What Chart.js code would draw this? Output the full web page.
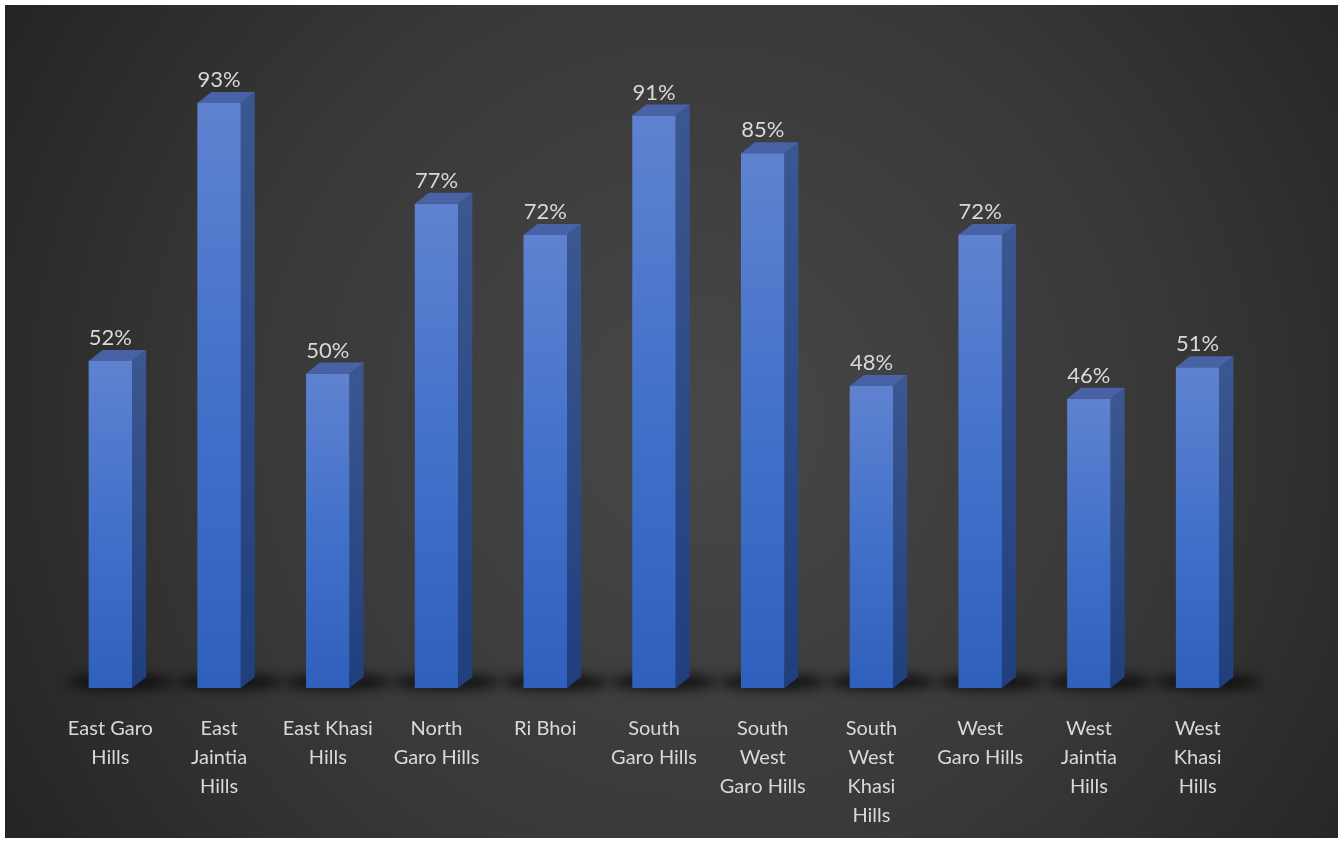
<!DOCTYPE html>
<html>
<head>
<meta charset="utf-8">
<script src="https://cdn.jsdelivr.net/npm/chart.js@4.4.0/dist/chart.umd.min.js"></script>
<style>
  html, body { margin: 0; padding: 0; background: #fff; }
  #wrap { position: absolute; left: 5px; top: 5px; width: 1333px; height: 833px; }
</style>
</head>
<body>
<div id="wrap"><canvas id="myChart"></canvas></div>
<script>
// districts (already split into lines like the original)
var districts = [
  ['East Garo', 'Hills'],
  ['East', 'Jaintia', 'Hills'],
  ['East Khasi', 'Hills'],
  ['North', 'Garo Hills'],
  ['Ri Bhoi'],
  ['South', 'Garo Hills'],
  ['South', 'West', 'Garo Hills'],
  ['South', 'West', 'Khasi', 'Hills'],
  ['West', 'Garo Hills'],
  ['West', 'Jaintia', 'Hills'],
  ['West', 'Khasi', 'Hills']
];
var percents = [52, 93, 50, 77, 72, 91, 85, 48, 72, 46, 51];

var DX = 14, DY = 11;

// background + shadows under the bars
var backdrop = {
  id: 'backdrop',
  beforeDraw: function (chart) {
    var ctx = chart.ctx, w = chart.width, h = chart.height;
    var g = ctx.createRadialGradient(w * 0.52, h * 0.5, 20, w * 0.52, h * 0.5, w * 0.62);
    g.addColorStop(0, '#474747');
    g.addColorStop(0.55, '#383838');
    g.addColorStop(1, '#232323');
    ctx.save();
    ctx.fillStyle = g;
    ctx.fillRect(0, 0, w, h);
    ctx.restore();
  },
  beforeDatasetsDraw: function (chart) {
    var ctx = chart.ctx;
    var meta = chart.getDatasetMeta(0);
    ctx.save();
    ctx.filter = 'blur(6px)';
    ctx.fillStyle = 'rgba(10,10,10,0.85)';
    meta.data.forEach(function (bar) {
      var half = bar.width / 2;
      ctx.beginPath();
      ctx.ellipse(bar.x + 10, bar.base - 6, half + 32, 8, 0, 0, Math.PI * 2);
      ctx.fill();
    });
    ctx.restore();
  }
};

// side and top faces + value labels
var boxes = {
  id: 'boxes',
  afterDatasetsDraw: function (chart) {
    var ctx = chart.ctx;
    var meta = chart.getDatasetMeta(0);
    ctx.save();
    meta.data.forEach(function (bar, i) {
      var l = bar.x - bar.width / 2, r = bar.x + bar.width / 2;
      var t = bar.y, b = bar.base;
      var sg = ctx.createLinearGradient(0, t, 0, b);
      sg.addColorStop(0, '#3b5791');
      sg.addColorStop(1, '#1f3f7d');
      ctx.fillStyle = sg;
      ctx.beginPath();
      ctx.moveTo(r, t);
      ctx.lineTo(r + DX, t - DY);
      ctx.lineTo(r + DX, b - DY);
      ctx.lineTo(r, b);
      ctx.closePath();
      ctx.fill();

      ctx.fillStyle = '#4862a6';
      ctx.beginPath();
      ctx.moveTo(l, t);
      ctx.lineTo(l + DX, t - DY);
      ctx.lineTo(r + DX, t - DY);
      ctx.lineTo(r, t);
      ctx.closePath();
      ctx.fill();

      ctx.fillStyle = '#d9d9d9';
      ctx.font = '22px Lato';
      ctx.textAlign = 'center';
      ctx.textBaseline = 'alphabetic';
      ctx.fillText(percents[i] + '%', bar.x, t - 16);
    });
    ctx.restore();
  }
};

var ctx_bar = document.getElementById('myChart');

var data_bar = {
  labels: districts,
  datasets: [{
    label: 'Percentage',
    data: percents,
    backgroundColor: function (context) {
      var chart = context.chart;
      if (!chart.chartArea || !chart.scales.y) return '#4472c4';
      var top = chart.scales.y.getPixelForValue(context.raw);
      var bottom = chart.scales.y.getPixelForValue(0);
      if (!isFinite(top) || !isFinite(bottom)) return '#4472c4';
      var g = chart.ctx.createLinearGradient(0, top, 0, bottom);
      g.addColorStop(0, '#5f82d0');
      g.addColorStop(0.5, '#4271ca');
      g.addColorStop(1, '#2f60bd');
      return g;
    },
    borderWidth: 0,
    barPercentage: 0.4,
    categoryPercentage: 1.0
  }]
};

var options_bar = {
  responsive: true,
  maintainAspectRatio: false,
  animation: false,
  layout: {
    padding: { left: 51, right: 86, top: 54, bottom: 0 }
  },
  plugins: {
    legend: { display: false },
    tooltip: { enabled: false }
  },
  scales: {
    x: {
      grid: { display: false, drawTicks: false },
      border: { display: false },
      ticks: {
        color: '#d9d9d9',
        font: { family: 'Lato', size: 20, lineHeight: 1.45 },
        padding: 26,
        maxRotation: 0,
        autoSkip: false
      },
      afterFit: function (scale) {
        scale.height = 150;
      }
    },
    y: {
      display: false,
      min: 0,
      max: 100
    }
  }
};

var myBarChart = new Chart(ctx_bar, {
  type: 'bar',
  data: data_bar,
  options: options_bar,
  plugins: [backdrop, boxes]
});
</script>
</body>
</html>
